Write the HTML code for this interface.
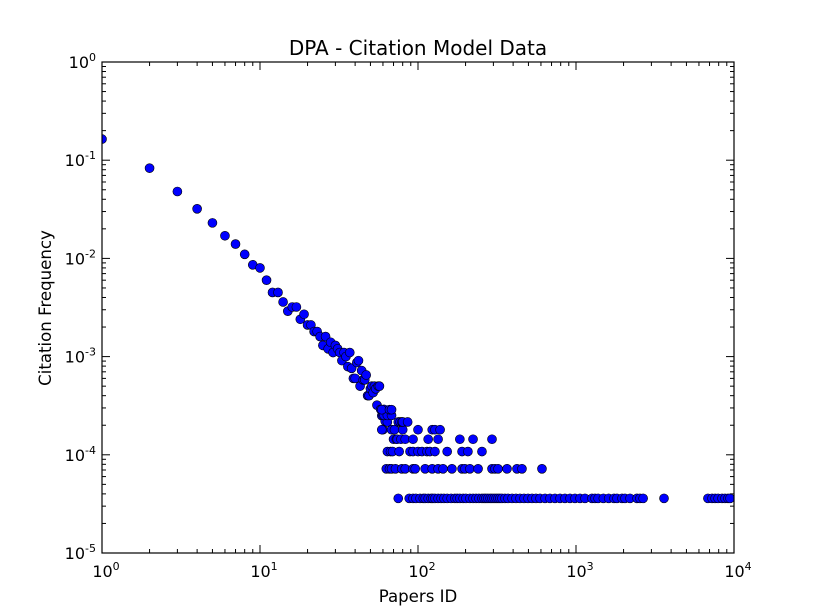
<!DOCTYPE html>
<html><head><meta charset="utf-8"><style>
html,body{margin:0;padding:0;background:#fff}
svg{display:block;font-family:"DejaVu Sans","Liberation Sans",sans-serif}
</style></head><body>
<svg id="chart" width="815" height="615" viewBox="0 0 815 615" xmlns="http://www.w3.org/2000/svg">
<rect width="815" height="615" fill="#fff"/>
<defs><clipPath id="plotclip"><rect x="102" y="62" width="632" height="491"/></clipPath></defs>
<text x="418" y="55" text-anchor="middle" font-size="20">DPA - Citation Model Data</text>
<text x="418" y="602" text-anchor="middle" font-size="16.6">Papers ID</text>
<text x="51" y="308" text-anchor="middle" font-size="16.6" transform="rotate(-90 51 308)">Citation Frequency</text>
<g id="marks" clip-path="url(#plotclip)"></g>
<g id="axes"></g>
</svg>
<script>
const headIds = [1,2,3,4,5,6,7,8,9,10,11,12,13,14,15,16,17,18,19,20,21,22,23,24,25,26,27,28,29,30,31,32,33,34,35,36,37,38,39,40,41,42,43,44,45,46,47,48,49,50,51,52,53,54,55,56,57,58,59,60,61,62];
const headFreqs = [0.164,0.083,0.048,0.032,0.023,0.017,0.014,0.011,0.0086,0.0080,0.006,0.0045,0.0045,0.0036,0.0029,0.0032,0.0032,0.0024,0.0027,0.0021,0.0021,0.0018,0.0018,0.0016,0.0013,0.0016,0.0012,0.0014,0.0011,0.0013,0.0012,0.0011,0.00091,0.0011,0.0010,0.00079,0.0011,0.00076,0.0006,0.0006,0.00087,0.00091,0.0005,0.00072,0.00058,0.00058,0.00065,0.0004,0.0004,0.00047,0.0005,0.00043,0.0005,0.00047,0.00032,0.0005,0.0005,0.00029,0.00025,0.00018,0.00029,0.00022];
const unitFreq = 3.6e-5;
const level1Ids = [75,88,93,97,103,108,111,116,121,124,128,134,140,146,153,162,171,177,184,193,201,213,223,233,243,254,262,269,277,286,294,303,312,321,330,340,355,371,394,417,442,469,497,527,558,592,637,684,736,792,851,916,985,1060,1140,1262,1319,1380,1490,1610,1740,1817,1955,2042,2197,2436,2540,2660,3606,6840,7262,7590,7930,8400,8770,9160,9436];
const level2Ids = [63,66,68,72,79,83,93,96,111,123,134,144,164,190,198,213,240,294,307,321,366,423,455,609];
const level3Ids = [64,67,69,76,89,93,100,106,114,119,128,153,190,207,254];
const level4Ids = [70,73,74,78,83,93,116,134,184,223,294];
const level5Ids = [59,68,71,80,100,123,128,138];
const level6Ids = [64,75,77,79,80,86];
const level7Ids = [60,61,64,68];
const level8Ids = [59,66,68];
const xTickExps = [0,1,2,3,4];
const yTickExps = [-5,-4,-3,-2,-1,0];

const L=102,R=734,T=62,B=553;
const xS=v=>L+(Math.log10(v)-0)/4*(R-L);
const yS=v=>B-(Math.log10(v)+5)/5*(B-T);
const NS="http://www.w3.org/2000/svg";
const marks=document.getElementById('marks');
const axes=document.getElementById('axes');
function dot(id,f){
  const c=document.createElementNS(NS,'circle');
  c.setAttribute('cx',xS(id));c.setAttribute('cy',yS(f));c.setAttribute('r',4.5);
  c.setAttribute('fill','#0000ff');c.setAttribute('stroke','#000');c.setAttribute('stroke-width','0.6');
  
  
  marks.appendChild(c);
}
headIds.forEach((id,i)=>dot(id,headFreqs[i]));
[level1Ids,level2Ids,level3Ids,level4Ids,level5Ids,level6Ids,level7Ids,level8Ids].forEach((arr,k)=>arr.forEach(id=>dot(id,unitFreq*(k+1))));

function line(x1,y1,x2,y2,w){
  const l=document.createElementNS(NS,'line');
  l.setAttribute('x1',x1);l.setAttribute('y1',y1);l.setAttribute('x2',x2);l.setAttribute('y2',y2);
  l.setAttribute('stroke','#000');l.setAttribute('stroke-width',w||1);
  
  
  axes.appendChild(l);
}
function label(x,y,exp,anchor,name){
  const t=document.createElementNS(NS,'text');
  t.setAttribute('x',x);t.setAttribute('y',y);t.setAttribute('text-anchor',anchor);t.setAttribute('font-size','16');
  
  
  t.innerHTML='10<tspan font-size="11" dy="-7">'+exp+'</tspan>';
  axes.appendChild(t);
}
xTickExps.forEach((e,i)=>{
  const x=xS(Math.pow(10,e));
  line(x,B,x,B-8);line(x,T,x,T+8);
  label(x+4,B+24,e,'middle','x-tick-label');
  if(i<xTickExps.length-1) for(let m=2;m<10;m++){const xm=xS(m*Math.pow(10,e));line(xm,B,xm,B-4);line(xm,T,xm,T+4);}
});
yTickExps.forEach((e,i)=>{
  const y=yS(Math.pow(10,e));
  line(L,y,L+8,y);line(R,y,R-8,y);
  label(L-6,y+6,e,'end','y-tick-label');
  if(i<yTickExps.length-1) for(let m=2;m<10;m++){const ym=yS(m*Math.pow(10,e));line(L,ym,L+4,ym);line(R,ym,R-4,ym);}
});
const fr=document.createElementNS(NS,'rect');
fr.setAttribute('x',L);fr.setAttribute('y',T);fr.setAttribute('width',R-L);fr.setAttribute('height',B-T);
fr.setAttribute('fill','none');fr.setAttribute('stroke','#000');fr.setAttribute('stroke-width','1.2');


axes.appendChild(fr);
</script>
</body></html>
